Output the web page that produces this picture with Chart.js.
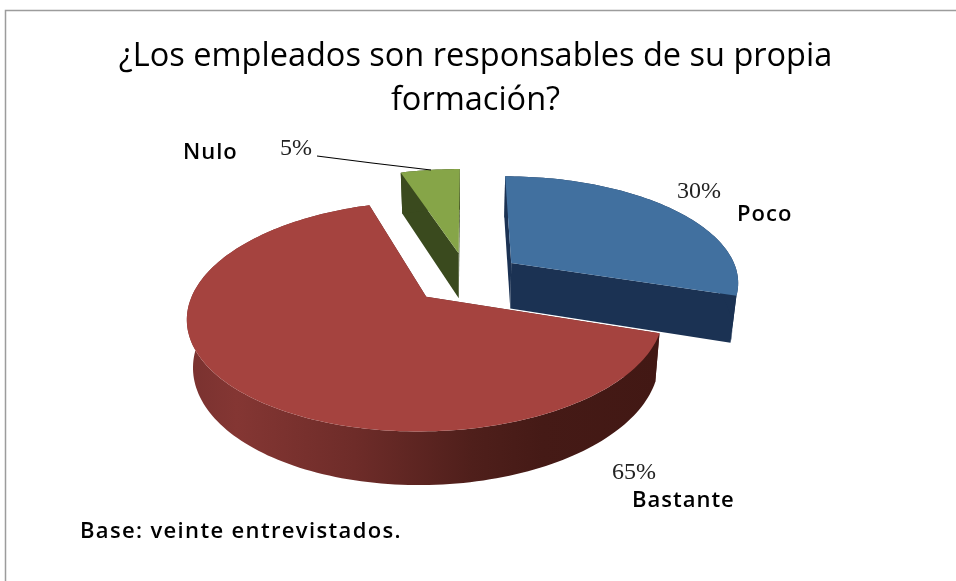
<!DOCTYPE html>
<html lang="es">
<head>
<meta charset="utf-8">
<title>Formación de los empleados</title>
<script src="https://cdn.jsdelivr.net/npm/chart.js@4/dist/chart.umd.js"></script>
<style>
  html, body { margin: 0; padding: 0; background: #ffffff; }
  #wrap { position: relative; width: 956px; height: 581px; }
</style>
</head>
<body>
<div id="wrap"><canvas id="pie" width="956" height="581"></canvas></div>
<script>
// Survey answers
const categories = ['Poco', 'Bastante', 'Nulo'];
const percentages = [30, 65, 5];
const topColors = ['#41709f', '#a5433f', '#86a548'];
const wallColors = ['#1b3253', '#5a2320', '#3a4a1e'];
const titleLines = ['¿Los empleados son responsables de su propia', 'formación?'];
const footnote = 'Base: veinte entrevistados.';

// Where each slice's name and percentage sit, in slice order
const namePlaces = [[737, 221], [632, 507], [183, 159]];
const valuePlaces = [[677, 198], [612, 479], [280, 155]];
const leader = [[317, 156], [372, 163], [431, 170]];

// Oblique view of the pie plane
const view = { squash: 0.463, perspective: 0.00072, depth: 46, floorScale: 0.978 };

function project(cx, cy, u, v, lowered) {
  const s = 1 / (1 - view.perspective * v);
  const m = lowered ? view.floorScale : 1;
  return [
    cx + u * s * m,
    cy + view.squash * v * s * m + (lowered ? view.depth * s : 0)
  ];
}

function slicePoints(arc) {
  const { x, y, startAngle, endAngle, outerRadius } = arc.getProps(['x', 'y', 'startAngle', 'endAngle', 'outerRadius'], true);
  const mid = (startAngle + endAngle) / 2;
  const du = Math.cos(mid) * arc.options.offset;
  const dv = Math.sin(mid) * arc.options.offset;
  const rim = [];
  const steps = Math.max(8, Math.ceil((endAngle - startAngle) * 40));
  for (let i = 0; i <= steps; i++) {
    const a = startAngle + (endAngle - startAngle) * i / steps;
    rim.push([du + Math.cos(a) * outerRadius, dv + Math.sin(a) * outerRadius]);
  }
  return { cx: x, cy: y, apex: [du, dv], rim };
}

function fillPath(ctx, pts, fill) {
  ctx.beginPath();
  pts.forEach((p, i) => (i ? ctx.lineTo(p[0], p[1]) : ctx.moveTo(p[0], p[1])));
  ctx.closePath();
  ctx.fillStyle = fill;
  ctx.fill();
}

function drawSlice(ctx, arc, top, wall, rimFill) {
  const { cx, cy, apex, rim } = slicePoints(arc);
  const up = p => project(cx, cy, p[0], p[1], false);
  const down = p => project(cx, cy, p[0], p[1], true);
  const first = rim[0];
  const last = rim[rim.length - 1];
  // side walls along the two straight edges
  fillPath(ctx, [up(apex), up(first), down(first), down(apex)], wall);
  fillPath(ctx, [up(apex), up(last), down(last), down(apex)], wall);
  // curved outer wall
  fillPath(ctx, rim.map(up).concat(rim.slice().reverse().map(down)), rimFill || wall);
  // upper face
  fillPath(ctx, [up(apex)].concat(rim.map(up)), top);
}

const tiltedPie = {
  id: 'tiltedPie',
  beforeDatasetsDraw(chart) {
    const ctx = chart.ctx;
    const arcs = chart.getDatasetMeta(0).data;
    const colors = chart.data.datasets[0].backgroundColor;

    const shade = ctx.createLinearGradient(190, 0, 660, 0);
    shade.addColorStop(0, '#7a3230');
    shade.addColorStop(0.1, '#843633');
    shade.addColorStop(0.35, '#6e2c29');
    shade.addColorStop(0.6, '#4f1f1b');
    shade.addColorStop(0.75, '#451a16');
    shade.addColorStop(1, '#421814');

    // back slices first, the large front slice last
    [2, 0, 1].forEach(i => {
      drawSlice(ctx, arcs[i], colors[i], wallColors[i], i === 1 ? shade : null);
    });
    return false;
  },
  afterDraw(chart) {
    const ctx = chart.ctx;
    ctx.save();

    // frame: only the top and left rules run inside the page
    ctx.strokeStyle = '#9c9c9c';
    ctx.lineWidth = 1.5;
    ctx.beginPath();
    ctx.moveTo(5.5, 581);
    ctx.lineTo(5.5, 10.5);
    ctx.lineTo(956, 10.5);
    ctx.stroke();

    ctx.textBaseline = 'alphabetic';
    ctx.fillStyle = '#000000';
    ctx.textAlign = 'center';
    ctx.font = '500 32.5px "Open Sans"';
    ctx.fillText(titleLines[0], 475.5, 66);
    ctx.fillText(titleLines[1], 475.5, 110);

    ctx.textAlign = 'left';
    ctx.font = '600 22px "Open Sans"';
    ctx.letterSpacing = '1px';
    categories.forEach((name, i) => ctx.fillText(name, namePlaces[i][0], namePlaces[i][1]));
    ctx.letterSpacing = '1.35px';
    ctx.fillText(footnote, 80, 538);
    ctx.letterSpacing = '0px';

    ctx.font = '24px "Liberation Serif"';
    ctx.fillStyle = '#222222';
    percentages.forEach((value, i) => ctx.fillText(value + '%', valuePlaces[i][0], valuePlaces[i][1]));

    ctx.strokeStyle = '#000000';
    ctx.lineWidth = 1.2;
    ctx.beginPath();
    leader.forEach((p, i) => (i ? ctx.lineTo(p[0], p[1]) : ctx.moveTo(p[0], p[1])));
    ctx.stroke();
    ctx.restore();
  }
};

new Chart(document.getElementById('pie'), {
  type: 'pie',
  data: {
    labels: categories,
    datasets: [{ data: percentages, backgroundColor: topColors, borderWidth: 0, offset: 56, radius: 228 }]
  },
  options: {
    responsive: false,
    animation: false,
    radius: 228,
    layout: { padding: { left: 0, right: 22, top: 0, bottom: 25 } },
    plugins: { legend: { display: false }, title: { display: false }, tooltip: { enabled: false } }
  },
  plugins: [tiltedPie]
});
</script>
</body>
</html>
